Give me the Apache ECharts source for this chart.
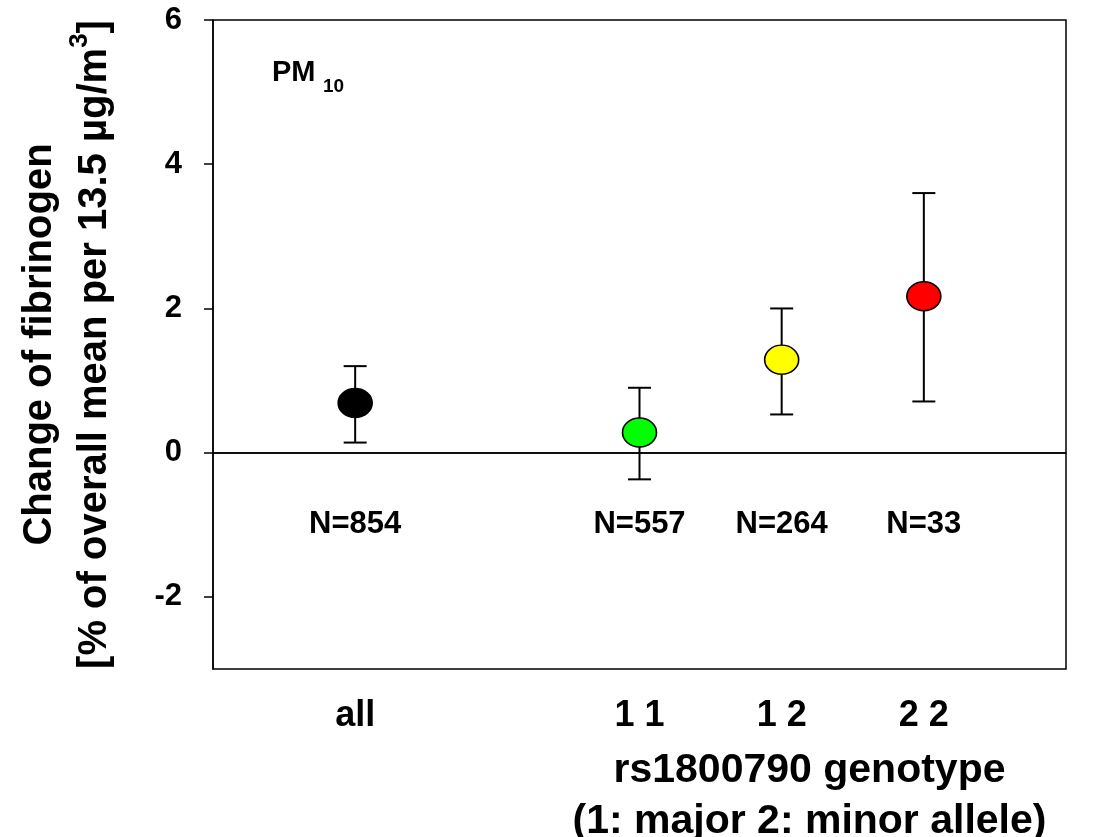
<!DOCTYPE html>
<html><head><meta charset="utf-8">
<script src="https://cdn.jsdelivr.net/npm/echarts@6/dist/echarts.min.js"></script>
<style>html,body{margin:0;padding:0;background:#fff}#c{width:1095px;height:837px}</style>
</head><body><div id="c"></div>
<script>
const groups = ['all', '1 1', '1 2', '2 2'];
const xPos = [1, 3, 4, 5];
const means = [0.69, 0.28, 1.29, 2.17];
const lower = [0.14, -0.37, 0.53, 0.71];
const upper = [1.20, 0.90, 2.00, 3.60];
const colors = ['#000000', '#00ff00', '#ffff00', '#ff0000'];
const nLabels = ['N=854', 'N=557', 'N=264', 'N=33'];
const nLabelY = -1.0;
const yTicks = [-2, 0, 2, 4, 6];

const chart = echarts.init(document.getElementById('c'));
const FONT = 'Liberation Sans, Arial, sans-serif';

chart.setOption({
  animation: false,
  grid: {left: 213, top: 20, right: 29, bottom: 168, containLabel: false, outerBoundsMode: 'none',
    show: true, borderColor: '#000', borderWidth: 1.5, backgroundColor: 'transparent'},
  xAxis: {
    type: 'value', min: 0, max: 6, interval: 1,
    splitLine: {show: false}, axisTick: {show: false},
    axisLine: {show: true, lineStyle: {color: '#000', width: 1.5}},
    axisLabel: {
      margin: 29, fontFamily: FONT, fontWeight: 'bold', fontSize: 36, color: '#000',
      formatter: v => { const i = xPos.indexOf(v); return i >= 0 ? groups[i] : ''; }
    },
    name: 'rs1800790 genotype\n(1: major 2: minor allele)',
    nameLocation: 'middle', nameGap: 76,
    nameTextStyle: {fontFamily: FONT, fontWeight: 'bold', fontSize: 41, color: '#000', lineHeight: 51, padding: [0, 0, 0, 340]}
  },
  yAxis: {
    type: 'value', min: -3, max: 6, interval: 1,
    splitLine: {show: false},
    axisLine: {show: true, lineStyle: {color: '#000', width: 1.5}},
    axisTick: {show: true, inside: false, length: 9, lineStyle: {color: '#000', width: 1.5},
      customValues: yTicks},
    axisLabel: {margin: 31, fontFamily: FONT, fontWeight: 'bold', fontSize: 31, color: '#000',
      customValues: yTicks},
    name: '{a|Change of fibrinogen}\n{a|[% of overall mean per 13.5 µg/m}{s|3}{a|]}',
    nameLocation: 'middle', nameGap: 91, nameRotate: 90,
    nameTextStyle: {
      rich: {
        a: {fontFamily: FONT, fontWeight: 'bold', fontSize: 40, color: '#000', lineHeight: 55},
        s: {fontFamily: FONT, fontWeight: 'bold', fontSize: 26, color: '#000', lineHeight: 55, verticalAlign: 'top', padding: [0, 0, 20, 0]}
      }
    }
  },
  series: [
    {
      type: 'custom',
      z: 2,
      data: xPos.map((x, i) => [x, lower[i], upper[i]]),
      renderItem: (params, api) => {
        const x = api.value(0);
        const lo = api.coord([x, api.value(1)]);
        const hi = api.coord([x, api.value(2)]);
        const cap = 11.5;
        const st = {stroke: '#000', lineWidth: 2};
        return {type: 'group', children: [
          {type: 'line', shape: {x1: lo[0], y1: lo[1], x2: hi[0], y2: hi[1]}, style: st},
          {type: 'line', shape: {x1: lo[0] - cap, y1: lo[1], x2: lo[0] + cap, y2: lo[1]}, style: st},
          {type: 'line', shape: {x1: hi[0] - cap, y1: hi[1], x2: hi[0] + cap, y2: hi[1]}, style: st}
        ]};
      }
    },
    {
      type: 'scatter',
      z: 3,
      symbol: 'circle',
      symbolSize: [34, 29],
      data: xPos.map((x, i) => ({value: [x, means[i]], itemStyle: {color: colors[i], borderColor: '#000', borderWidth: 1.5, opacity: 1}})),
      markLine: {
        silent: true, symbol: 'none', label: {show: false},
        lineStyle: {color: '#000', width: 1.5, type: 'solid', opacity: 1},
        data: [{yAxis: 0}]
      }
    },
    {
      type: 'scatter',
      symbolSize: 1,
      itemStyle: {opacity: 1, color: 'rgba(0,0,0,0)'},
      data: xPos.map((x, i) => ({value: [x, nLabelY], label: {show: true, formatter: nLabels[i]}})),
      label: {position: 'inside', fontFamily: FONT, fontWeight: 'bold', fontSize: 31, color: '#000', opacity: 1}
    }
  ],
  graphic: [
    {type: 'text', left: 272, top: 58, style: {text: 'PM', fontFamily: FONT, fontWeight: 'bold', fontSize: 29, fill: '#000'}},
    {type: 'text', left: 323, top: 77, style: {text: '10', fontFamily: FONT, fontWeight: 'bold', fontSize: 19, fill: '#000'}}
  ]
});
</script>
</body></html>
